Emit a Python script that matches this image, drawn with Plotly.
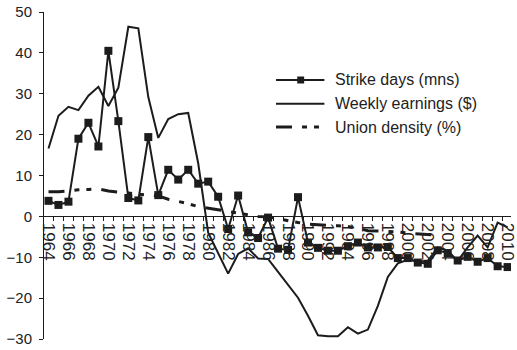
import plotly.graph_objects as go

# Annual series, 1964-2010
years = list(range(1964, 2011))

strike_days = [
    3.8, 2.8, 3.6, 19.0, 22.9, 17.1, 40.5, 23.3, 4.5, 3.9,
    19.4, 5.2, 11.4, 9.0, 11.4, 8.0, 8.5, 4.8, -3.1, 5.1,
    -3.9, -5.3, -0.3, -7.9, -8.2, 4.7, -6.4, -7.7, -8.4, -8.4,
    -7.3, -6.4, -7.6, -7.6, -7.5, -10.2, -10.2, -11.3, -11.6, -8.3,
    -9.0, -10.8, -9.9, -11.1, -10.2, -12.2, -12.4,
]

weekly_earnings = [
    16.6, 24.6, 26.8, 26.0, 29.5, 31.7, 27.0, 31.5, 46.4, 46.0,
    29.2, 19.2, 23.8, 25.0, 25.3, 13.0, -4.0, -9.0, -14.0, -9.2,
    -7.8, -10.3, -10.4, -13.6, -16.8, -19.9, -24.3, -29.1, -29.3, -29.3,
    -27.1, -28.7, -27.7, -21.9, -14.8, -11.5, -10.6, -11.0, -10.9, -7.6,
    -8.4, -10.9, -7.6, -4.7, -7.6, -1.5, -2.7,
]

union_years = list(range(1964, 2004))
union_density = [
    6.0, 6.0, 6.2, 6.5, 6.6, 6.7, 6.2, 6.0, 5.7, 5.4,
    5.2, 5.0, 4.2, 3.7, 3.1, 2.4, 2.0, 1.6, 1.1, 0.7,
    0.3, 0.0, -0.1, -0.6, -1.1, -1.5, -1.9, -2.1, -2.2, -2.3,
    -2.5, -2.9, -3.5, -3.6, -3.7, -3.8, -4.1, -4.3, -4.4, -4.6,
]

series_names = ["Strike days (mns)", "Weekly earnings ($)", "Union density (%)"]

y_min, y_max = -30, 50
ink = "#1c1c1c"
text_col = "#222222"
font_family = "Liberation Sans, Arial, sans-serif"
union_dash = "16px,10px,5px,7px,5px,10px"

W, H = 517, 350
M = dict(l=44, r=0, t=12, b=11)
plot_w = W - M["l"] - M["r"]
plot_h = H - M["t"] - M["b"]


def px_to_paper(px, py):
    """Convert pixel position in the page to paper coordinates."""
    return (px - M["l"]) / plot_w, 1 - (py - M["t"]) / plot_h


fig = go.Figure()

fig.add_trace(go.Scatter(
    x=years, y=strike_days, name=series_names[0],
    mode="lines+markers",
    line=dict(color=ink, width=2),
    marker=dict(symbol="square", size=8, color=ink),
))

fig.add_trace(go.Scatter(
    x=years, y=weekly_earnings, name=series_names[1],
    mode="lines",
    line=dict(color=ink, width=2),
))

fig.add_trace(go.Scatter(
    x=union_years, y=union_density, name=series_names[2],
    mode="lines",
    line=dict(color=ink, width=3, dash=union_dash),
))

# Key drawn as paper-space line samples with text labels
key_x0, key_x1, key_text_x = 279, 328, 337
key_rows = [80, 103.7, 127]
sample_styles = [
    dict(color=ink, width=2),
    dict(color=ink, width=2),
    dict(color=ink, width=3, dash=union_dash),
]
shapes = []
annotations = []
for name, row_y, style in zip(series_names, key_rows, sample_styles):
    x0, y0 = px_to_paper(key_x0, row_y)
    x1, _ = px_to_paper(key_x1, row_y)
    shapes.append(dict(type="line", xref="paper", yref="paper",
                       x0=x0, x1=x1, y0=y0, y1=y0, line=style))
    tx, ty = px_to_paper(key_text_x, row_y)
    annotations.append(dict(xref="paper", yref="paper", x=tx, y=ty,
                            text=name, showarrow=False,
                            xanchor="left", yanchor="middle",
                            font=dict(size=16, color=text_col)))
# square marker on the strike-days sample
mx0, my0 = px_to_paper(300.5, key_rows[0] - 3.5)
mx1, my1 = px_to_paper(307.5, key_rows[0] + 3.5)
shapes.append(dict(type="rect", xref="paper", yref="paper",
                   x0=mx0, x1=mx1, y0=my1, y1=my0,
                   fillcolor=ink, line=dict(width=0)))

fig.update_layout(
    width=W, height=H,
    margin=M,
    paper_bgcolor="white", plot_bgcolor="white",
    font=dict(family=font_family, color=text_col, size=15),
    showlegend=False,
    shapes=shapes,
    annotations=annotations,
    xaxis=dict(
        range=[1963.55, 2010.34],
        anchor="free",
        position=(0 - y_min) / (y_max - y_min),
        showline=True, linecolor=ink, linewidth=1,
        showgrid=False, zeroline=False,
        tickmode="linear", tick0=1964, dtick=2,
        ticks="", tickangle=90,
        ticklabelstandoff=2,
        ticklabeloverflow="allow",
        tickfont=dict(size=17, color=text_col),
        minor=dict(ticks="outside", tick0=1963.5, dtick=1,
                   ticklen=4, tickcolor=ink, tickwidth=1),
    ),
    yaxis=dict(
        range=[y_min, y_max],
        showline=True, linecolor=ink, linewidth=1,
        showgrid=False, zeroline=False,
        tickmode="linear", tick0=0, dtick=10,
        ticks="outside", ticklen=4, tickcolor=ink,
        ticklabelstandoff=4,
        tickfont=dict(size=15, color=text_col),
    ),
)

fig.write_html("out.html")
